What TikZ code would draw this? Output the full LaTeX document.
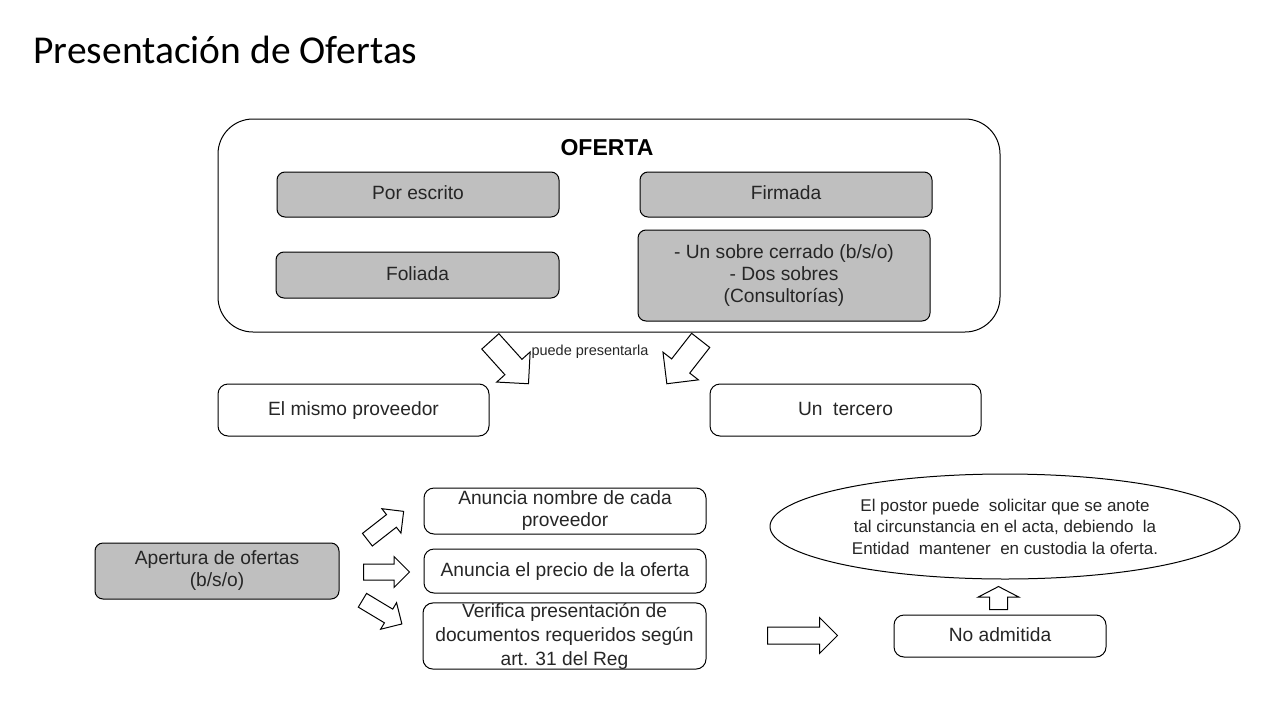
\documentclass[tikz,border=0pt]{standalone}
\usepackage{fontspec}
\setmainfont{Liberation Sans}
\newfontfamily\titlefont{Carlito}
\usetikzlibrary{shapes.geometric, shapes.arrows, positioning}
\definecolor{boxgray}{RGB}{191,191,191}
\definecolor{textdark}{RGB}{38,38,38}

\begin{document}
\begin{tikzpicture}[x=1pt, y=-1pt,
  box/.style={draw=black, line width=1pt, rounded corners=10pt, align=center,
    inner sep=0pt, text=textdark, font=\fontsize{19.2}{22}\selectfont},
  graybox/.style={box, fill=boxgray, rounded corners=8pt},
  oneline/.style={text height=14pt, text depth=4pt},
  blockarrow/.style={single arrow, draw=black, line width=1pt, fill=white,
    inner sep=0pt, minimum width=0pt, anchor=tail}]
\useasboundingbox (0,0) rectangle (1279,720);
% Title
\node[anchor=west, font=\titlefont\fontsize{39.5}{44}\selectfont] (title) at (30,50) {Presentación de Ofertas};
% Oferta frame
\node[draw=black, line width=1pt, rounded corners=35pt, minimum width=782pt, minimum height=213pt] (ofertabox) at (609,225.5) {};
\node[font=\bfseries\fontsize{23}{26}\selectfont] (oferta) at (607,148) {OFERTA};
\node[graybox, oneline, minimum width=282pt, minimum height=45pt] (escrito) at (418,194.5) {Por escrito};
\node[graybox, oneline, minimum width=292pt, minimum height=45pt] (firmada) at (786,194.5) {Firmada};
\node[graybox, oneline, minimum width=283pt, minimum height=46pt] (foliada) at (417.5,275) {Foliada};
\node[graybox, minimum width=292pt, minimum height=91pt] (sobres) at (784,275.5) {- Un sobre cerrado (b/s/o)\\- Dos sobres\\(Consultorías)};
% Who presents it
\node[blockarrow, rotate=-48, minimum height=57pt, inner ysep=11pt, single arrow head extend=11pt] (arrowleft) at (490,341) {};
\node[blockarrow, rotate=-128, minimum height=55pt, inner ysep=11pt, single arrow head extend=11pt] (arrowright) at (701,340) {};
\node[font=\fontsize{14.5}{16}\selectfont, text=textdark] (puede) at (590,352) {puede presentarla};
\node[box, oneline, minimum width=271pt, minimum height=52pt] (mismo) at (353.5,410) {El mismo proveedor};
\node[box, oneline, minimum width=271pt, minimum height=52pt] (tercero) at (845.5,410) {Un\ \ tercero};
% Opening
\node[graybox, minimum width=244pt, minimum height=56pt] (apertura) at (217,571) {Apertura de ofertas\\(b/s/o)};
\node[blockarrow, rotate=38, minimum height=46pt, inner ysep=7.5pt, single arrow head extend=7.5pt] (arrowup) at (367,540) {};
\node[blockarrow, minimum height=46pt, inner ysep=7.5pt, single arrow head extend=7.5pt] (arrowmid) at (363,572) {};
\node[blockarrow, rotate=-31, minimum height=46pt, inner ysep=7.5pt, single arrow head extend=7.5pt] (arrowdown) at (362,600) {};
\node[box, minimum width=282pt, minimum height=46pt] (nombre) at (565,511) {Anuncia nombre de cada\\proveedor};
\node[box, oneline, minimum width=282pt, minimum height=44pt] (precio) at (565,571) {Anuncia el precio de la oferta};
\node[box, minimum width=283pt, minimum height=66pt, font=\fontsize{19.2}{24}\selectfont] (verifica) at (564.5,636) {Verifica presentación de\\documentos requeridos según\\art. 31 del Reg};
% Not admitted
\node[blockarrow, minimum height=70pt, inner ysep=8pt, single arrow head extend=9.5pt] (arrowno) at (767,635.5) {};
\node[box, oneline, minimum width=212pt, minimum height=42pt] (noadmit) at (1000,636) {No admitida};
\node[blockarrow, rotate=90, minimum height=23pt, inner ysep=8.5pt, single arrow head extend=11.5pt, single arrow tip angle=125] (arrowpostor) at (998.5,610) {};
\node[ellipse, draw=black, line width=1pt, minimum width=470pt, minimum height=105pt, inner sep=0pt, align=center, text=textdark, font=\fontsize{17}{21.5}\selectfont] (postor) at (1005,526.5) {El postor puede\ \ solicitar que se anote\\tal circunstancia en el acta, debiendo\ \ la\\Entidad\ \ mantener\ \ en custodia la oferta.};
\end{tikzpicture}
\end{document}
